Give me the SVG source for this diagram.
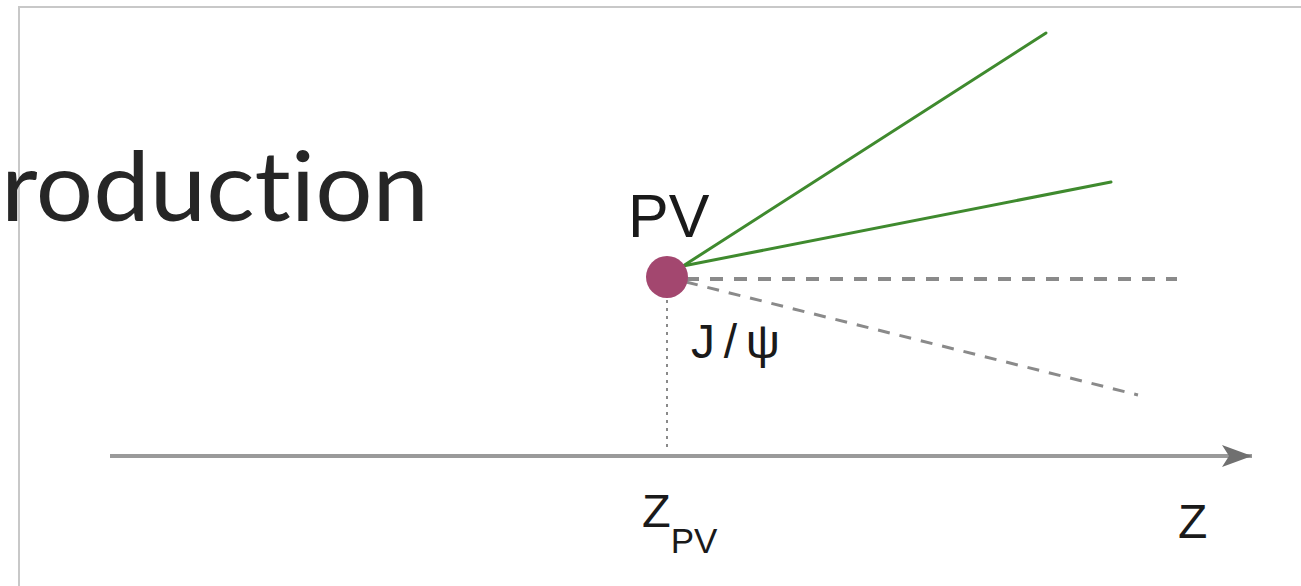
<svg xmlns="http://www.w3.org/2000/svg" width="1301" height="586" viewBox="0 0 1301 586">
<defs>
<style>
.lbl{font-family:"Liberation Sans","Open Sans",Arial,sans-serif;fill:#1a1a1a}
.title{font-family:"Lato","Open Sans",sans-serif;font-weight:400;fill:#262626;font-variant-ligatures:none}
.green{stroke:#3f8a2e;stroke-width:3;fill:none;stroke-linecap:round}
.dash{stroke:#8a8a8a;fill:none}
</style>
<marker id="arr" markerWidth="32" markerHeight="24" refX="30" refY="12" orient="auto" markerUnits="userSpaceOnUse">
<path d="M0,1 L30,12 L0,23 L7,12 Z" fill="#707070"/>
</marker>
</defs>
<rect width="1301" height="586" fill="#ffffff"/>
<g id="frame" fill="none" stroke="#c8c8c8" stroke-width="2">
<path d="M19,586 L19,7 L1301,7"/>
</g>
<g id="title">
<text class="title" x="1" y="221" font-size="96" textLength="428" lengthAdjust="spacingAndGlyphs">roduction</text>
</g>
<g id="connectors">
<line class="green" x1="683" y1="266" x2="1046" y2="33"/>
<line class="green" x1="683" y1="266" x2="1111" y2="182"/>
<line class="dash" x1="686" y1="279" x2="1177" y2="279" stroke-width="4" stroke-dasharray="13,11"/>
<line class="dash" x1="686" y1="282" x2="1138" y2="395" stroke-width="3" stroke-dasharray="12,10"/>
<line class="dash" x1="667" y1="300" x2="667" y2="452" stroke-width="2" stroke-dasharray="3,5" stroke="#666"/>
<line id="axis" x1="110" y1="456" x2="1252" y2="456" stroke="#9a9a9a" stroke-width="4" marker-end="url(#arr)"/>
</g>
<g id="pv">
<circle cx="667" cy="277" r="21" fill="#a3476f"/>
<text class="lbl" x="628" y="237" font-size="61">PV</text>
</g>
<g id="jpsi">
<text class="lbl" x="691" y="358" font-size="48" textLength="89" lengthAdjust="spacing">J/ψ</text>
</g>
<g id="zpv">
<text class="lbl" x="642" y="527" font-size="47">Z<tspan font-size="35" dy="26">PV</tspan></text>
</g>
<g id="z">
<text class="lbl" x="1178" y="538" font-size="48">Z</text>
</g>
</svg>
